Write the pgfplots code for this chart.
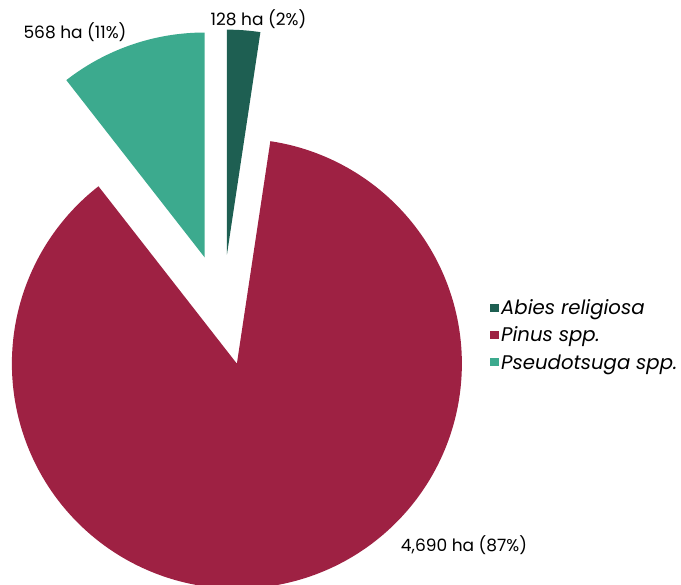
\documentclass[border=0pt]{standalone}
\usepackage{fontspec}
\setmainfont{Poppins}
\usepackage{pgfplots}
\pgfplotsset{compat=1.18}
\definecolor{cA}{HTML}{1E5F52}
\definecolor{cB}{HTML}{9E2143}
\definecolor{cC}{HTML}{3CAA8E}
\begin{document}
\begin{tikzpicture}
% data (ha)
\def\vA{128}\def\vB{4690}\def\vC{568}
\pgfmathsetmacro\T{\vA+\vB+\vC}
\pgfmathsetmacro\aA{90}
\pgfmathsetmacro\aB{\aA-(\vA/\T)*360}
\pgfmathsetmacro\aC{\aB-(\vB/\T)*360}
\pgfmathsetmacro\aD{\aC-(\vC/\T)*360}
\def\cx{222.8}\def\cy{275.0}\def\R{225}\def\e{55.5}
\pgfmathsetmacro\mA{(\aA+\aB)/2}
\pgfmathsetmacro\mB{(\aB+\aC)/2}
\pgfmathsetmacro\mC{(\aC+\aD)/2}
\pgfmathsetmacro\xA{\cx+\e*cos(\mA)}\pgfmathsetmacro\yA{\cy+\e*sin(\mA)}
\pgfmathsetmacro\xB{\cx+\e*cos(\mB)}\pgfmathsetmacro\yB{\cy+\e*sin(\mB)}
\pgfmathsetmacro\xC{\cx+\e*cos(\mC)}\pgfmathsetmacro\yC{\cy+\e*sin(\mC)}
\begin{axis}[
  width=681pt, height=585pt, scale only axis,
  xmin=0, xmax=681, ymin=0, ymax=585,
  hide axis, clip mode=individual,
  legend style={at={(axis cs:490,250)}, anchor=west, draw=none, fill=none,
    font=\itshape\fontsize{19.7}{23}\selectfont, row sep=7pt, inner sep=0pt,
    nodes={inner xsep=2.5pt}},
  legend cell align=left,
  legend image code/.code={\fill[#1] (0pt,-4pt) rectangle (8.5pt,4pt);},
]
\addplot[draw=none, forget plot] coordinates {(0,0) (681,585)};
\edef\doit{\noexpand\addplot[fill=cA, draw=none, domain=\aB:\aA, samples=40, variable=\noexpand\t]
  ({\xA+\R*cos(\noexpand\t)},{\yA+\R*sin(\noexpand\t)}) -- (axis cs:\xA,\yA) -- cycle;}\doit
\addlegendentry{Abies religiosa}
\edef\doit{\noexpand\addplot[fill=cB, draw=none, domain=\aC:\aB, samples=300, variable=\noexpand\t]
  ({\xB+\R*cos(\noexpand\t)},{\yB+\R*sin(\noexpand\t)}) -- (axis cs:\xB,\yB) -- cycle;}\doit
\addlegendentry{Pinus spp.}
\edef\doit{\noexpand\addplot[fill=cC, draw=none, domain=\aD:\aC, samples=60, variable=\noexpand\t]
  ({\xC+\R*cos(\noexpand\t)},{\yC+\R*sin(\noexpand\t)}) -- (axis cs:\xC,\yC) -- cycle;}\doit
\addlegendentry{Pseudotsuga spp.}
\node[font=\fontsize{17}{20}\selectfont] at (axis cs:258.5,566) {128 ha (2\%)};
\node[font=\fontsize{17}{20}\selectfont] at (axis cs:75,553) {568 ha (11\%)};
\node[font=\fontsize{17}{20}\selectfont] at (axis cs:464,40) {4,690 ha (87\%)};
\end{axis}
\end{tikzpicture}
\end{document}
